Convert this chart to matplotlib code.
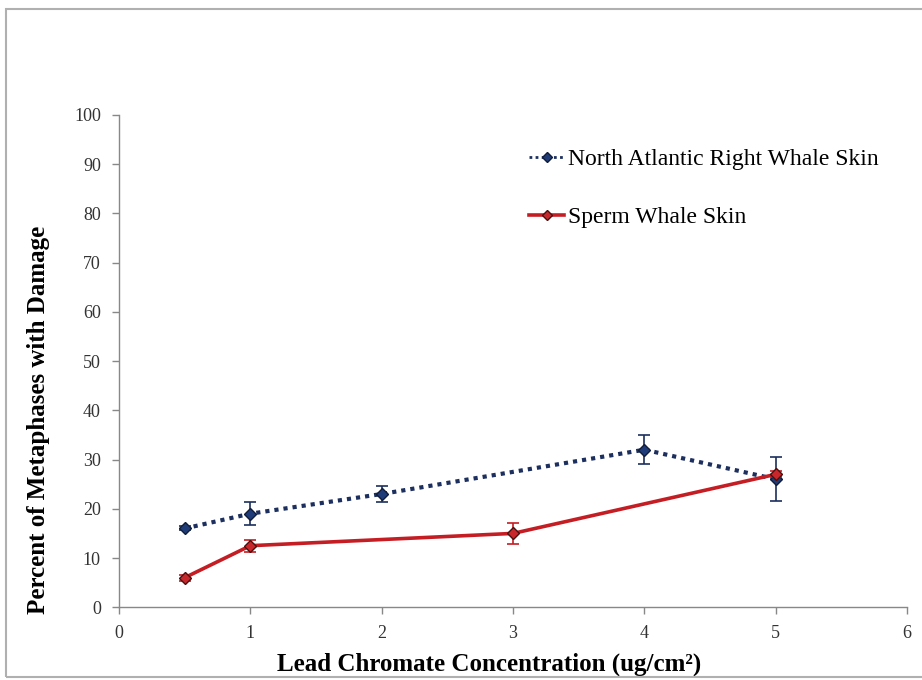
import matplotlib
matplotlib.use("Agg")
import matplotlib.pyplot as plt
from matplotlib.patches import Rectangle
from matplotlib.lines import Line2D

# Data
narw_x = [0.5, 1, 2, 4, 5]
narw_y = [16, 19, 23, 32, 26]
narw_err = [0.4, 2.3, 1.7, 3.0, 4.5]

sperm_x = [0.5, 1, 3, 5]
sperm_y = [6, 12.5, 15, 27]
sperm_err = [0.6, 1.2, 2.1, 0.6]

x_ticks = [0, 1, 2, 3, 4, 5, 6]
y_ticks = [0, 10, 20, 30, 40, 50, 60, 70, 80, 90, 100]

plt.rcParams['font.family'] = ['Liberation Serif', 'DejaVu Serif']

fig = plt.figure(figsize=(9.22, 6.8), dpi=100)
ax = fig.add_axes([0.129, 0.107, 0.855, 0.724])

fig.patches.append(Rectangle((6/922, 3/680), 1.2, 1 - 12/680, transform=fig.transFigure,
                             fill=False, edgecolor='#b0b0b0', linewidth=1.5, zorder=0))

navy = '#1c2f5e'
red = '#c41e24'
narw_style = dict(color=navy, linestyle=(0, (1, 1.2)), linewidth=3, marker='D',
                  markersize=6.5, markerfacecolor='#1f3c78', markeredgecolor='#101c38')
sperm_style = dict(color=red, linestyle='-', linewidth=2.6, marker='D',
                   markersize=6.5, markerfacecolor='#c8282c', markeredgecolor='#4a1010')

ax.errorbar(narw_x, narw_y, yerr=narw_err, ecolor=navy, elinewidth=1.2, capsize=4,
            capthick=1.2, zorder=3, **narw_style)
ax.errorbar(sperm_x, sperm_y, yerr=sperm_err, ecolor=red, elinewidth=1.2, capsize=4,
            capthick=1.2, zorder=4, **sperm_style)

ax.set_xlim(0, 6)
ax.set_ylim(0, 100)
ax.set_xticks(x_ticks)
ax.set_yticks(y_ticks)
ax.tick_params(axis='both', labelsize=13, labelcolor='#333333', color='#888888',
               length=5, width=1, pad=8)
for s in ['top', 'right']:
    ax.spines[s].set_visible(False)
for s in ['left', 'bottom']:
    ax.spines[s].set_color('#888888')
    ax.spines[s].set_linewidth(1)

ax.set_xlabel('Lead Chromate Concentration (ug/cm²)', fontsize=18, fontweight='bold')
ax.set_ylabel('Percent of Metaphases with Damage', fontsize=18, fontweight='bold')
ax.xaxis.set_label_coords(0.47, -0.092)
ax.yaxis.set_label_coords(-0.088, 0.38)

handles = [Line2D([], [], **{**narw_style, 'linewidth': 2, 'markersize': 5.5}),
           Line2D([], [], **{**sperm_style, 'markersize': 5.5})]
labels = ['North Atlantic Right Whale Skin', 'Sperm Whale Skin']
leg = ax.legend(handles, labels, loc='upper left', bbox_to_anchor=(0.493, 0.975), frameon=False,
                fontsize=17, handlelength=1.5, handletextpad=0.15, labelspacing=1.55)

fig.savefig('out.png', dpi=100, facecolor='white')
